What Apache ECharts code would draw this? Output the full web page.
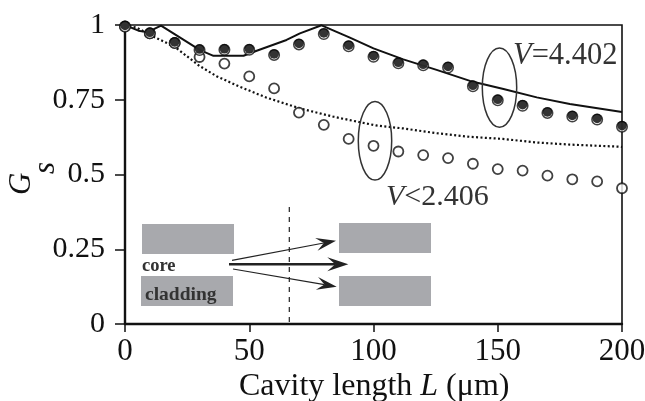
<!DOCTYPE html>
<html><head><meta charset="utf-8">
<style>html,body{margin:0;padding:0;background:#fff}#c{width:645px;height:401px}</style>
<script src="https://cdn.jsdelivr.net/npm/echarts@6/dist/echarts.min.js"></script>
</head><body><div id="c"></div>
<script>
const lengths = [0,10,20,30,40,50,60,70,80,90,100,110,120,130,140,150,160,170,180,190,200];
const filledValues = [0.995,0.972,0.94,0.916,0.917,0.917,0.90,0.935,0.97,0.929,0.894,0.872,0.865,0.858,0.795,0.748,0.73,0.706,0.694,0.684,0.66];
const openValues = [0.995,0.972,0.94,0.893,0.871,0.828,0.788,0.707,0.666,0.619,0.596,0.577,0.565,0.555,0.536,0.518,0.513,0.496,0.484,0.477,0.454];
const solidL = [0,5.4,8,10,12,14.5,30.2,35.6,47.7,53,65,70.4,79.1,90.5,100,112,125.4,138.8,152.3,165.7,179,200];
const solidG = [1,0.981,0.977,0.978,0.988,0.998,0.916,0.897,0.897,0.914,0.95,0.972,0.999,0.958,0.922,0.885,0.85,0.813,0.786,0.758,0.736,0.709];
const dottedL = [0,4.7,12,20,30,36.8,46,57,70.4,84,101,112,125.4,138.8,152,165.7,179,199,200];
const dottedG = [1,0.991,0.959,0.927,0.863,0.829,0.794,0.757,0.721,0.693,0.664,0.654,0.638,0.626,0.619,0.607,0.6,0.593,0.592];
const xTicks = {min:0,max:200,interval:50};
const yTicks = {min:0,max:1,interval:0.25};

const serif = '"Liberation Serif","Times New Roman",serif';
const zip = (a,b)=>a.map((v,i)=>[v,b[i]]);
const ink = '#222';

function arrow(x1,y1,x2,y2,w,hl,hw){
  const L=Math.hypot(x2-x1,y2-y1),ux=(x2-x1)/L,uy=(y2-y1)/L,nx=-uy,ny=ux;
  const notch=[x2-ux*hl*0.62,y2-uy*hl*0.62];
  return [
    {type:'line',shape:{x1,y1,x2:notch[0],y2:notch[1]},style:{stroke:ink,lineWidth:w}},
    {type:'polygon',shape:{points:[[x2,y2],[x2-ux*hl+nx*hw,y2-uy*hl+ny*hw],notch,[x2-ux*hl-nx*hw,y2-uy*hl-ny*hw]]},style:{fill:ink}}
  ];
}
const rect=(x,y,w,h)=>({type:'rect',shape:{x,y,width:w,height:h},style:{fill:'#a8a9ad'},z:1});
const text=(o)=>({type:'text',z:5,style:Object.assign({fontFamily:serif,fill:'#333',textBaseline:'top'},o)});

const chart = echarts.init(document.getElementById('c'),null,{renderer:'canvas'});
chart.setOption({
  animation:false,
  backgroundColor:'#fff',
  grid:{left:125,top:25,width:497,height:299,outerBoundsMode:'none',show:true,borderColor:'#111',borderWidth:1.6,backgroundColor:'transparent'},
  xAxis:Object.assign({type:'value',splitLine:{show:false},
    axisLine:{show:true,lineStyle:{color:'#111',width:2.4}},
    axisTick:{length:8,lineStyle:{color:'#111',width:1.5}},
    axisLabel:{fontFamily:serif,fontSize:31,color:'#111',margin:12}},xTicks),
  yAxis:Object.assign({type:'value',splitLine:{show:false},
    axisLine:{show:true,lineStyle:{color:'#111',width:2.4}},
    axisTick:{length:10,lineStyle:{color:'#111',width:1.5}},
    axisLabel:{fontFamily:serif,fontSize:30,color:'#111',margin:20}},yTicks),
  series:[
    {type:'line',data:zip(solidL,solidG),symbol:'none',lineStyle:{color:'#111',width:2},z:3},
    {type:'line',data:zip(dottedL,dottedG),symbol:'none',lineStyle:{color:'#111',width:2.2,type:[2,2.4]},z:3},
    {type:'scatter',data:zip(lengths,openValues),symbol:'circle',symbolSize:10,clip:false,
      itemStyle:{color:'#fff',borderColor:'#111',borderWidth:1.8},z:4},
    {type:'scatter',data:zip(lengths,filledValues),symbol:'circle',symbolSize:10.5,clip:false,
      itemStyle:{color:'#fff',borderColor:'#111',borderWidth:1.5},z:5},
    {type:'scatter',data:zip(lengths,filledValues),symbol:'circle',symbolSize:9.5,symbolOffset:[0,-1],clip:false,
      itemStyle:{color:'#000'},z:6}
  ],
  graphic:[
    rect(142,224,92,30),rect(141,276,92,30),rect(339,223,92,30),rect(339,276,92,30),
    {type:'line',z:2,shape:{x1:289.3,y1:207,x2:289.3,y2:324},style:{stroke:ink,lineWidth:1.2,lineDash:[5,5]}},
    ...arrow(232,260.3,336,240.7,1.2,20,6.5),
    ...arrow(229,264.3,348.3,264.3,2.6,21,7),
    ...arrow(233,269,336.7,286.7,1.2,20,6.5),
    {type:'ellipse',z:5,shape:{cx:375,cy:140.8,rx:16.7,ry:39.3},style:{fill:'none',stroke:'#333',lineWidth:1.5}},
    {type:'ellipse',z:5,shape:{cx:499.5,cy:87.6,rx:17.2,ry:39.6},style:{fill:'none',stroke:'#333',lineWidth:1.5}},
    text({x:513,y:40,text:'{i|V}{n|=4.402}',rich:{i:{fontFamily:serif,fontStyle:'italic',fontSize:30.5,fill:'#333'},n:{fontFamily:serif,fontSize:30.5,fill:'#333'}}}),
    text({x:386,y:182,text:'{i|V}{n|<2.406}',rich:{i:{fontFamily:serif,fontStyle:'italic',fontSize:30,fill:'#333'},n:{fontFamily:serif,fontSize:30,fill:'#333'}}}),
    text({x:142,y:257,text:'core',fontWeight:'bold',fontSize:18.5}),
    text({x:145,y:285,text:'cladding',fontWeight:'bold',fontSize:19.5}),
    text({x:239,y:371,text:'{n|Cavity length }{i|L}{n| (\u03bcm)}',rich:{i:{fontFamily:serif,fontStyle:'italic',fontSize:32,fill:'#111'},n:{fontFamily:serif,fontSize:32,fill:'#111'}}}),
    {type:'text',z:5,x:6,y:195,rotation:Math.PI/2,style:{text:'G',fontFamily:serif,fontStyle:'italic',fontSize:31,fill:'#111',textBaseline:'top'}},
    {type:'text',z:5,x:30,y:174,rotation:Math.PI/2,style:{text:'s',fontFamily:serif,fontStyle:'italic',fontSize:31,fill:'#111',textBaseline:'top'}}
  ]
});
</script></body></html>
